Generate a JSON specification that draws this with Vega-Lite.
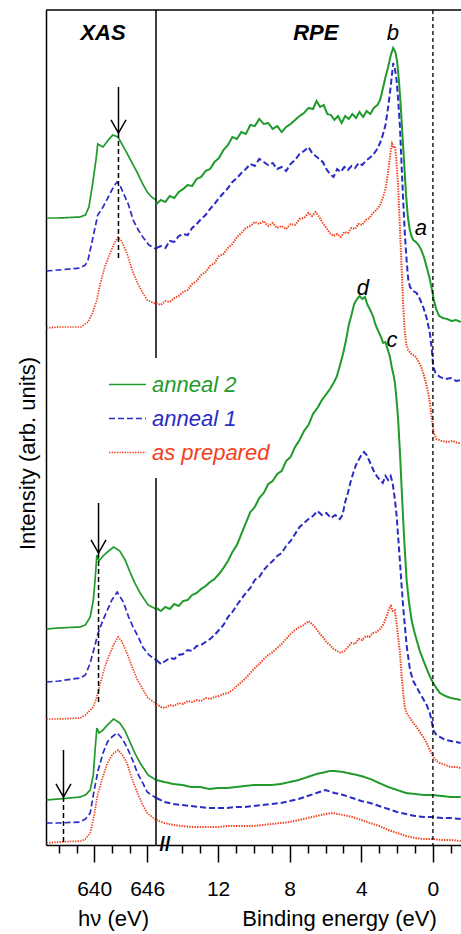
{
"$schema":"https://vega.github.io/schema/vega-lite/v6.json",
"width":415,"height":835,
"autosize":{"type":"none"},
"padding":{"left":46,"top":10,"right":0,"bottom":89},
"config":{"view":{"stroke":null},"font":"Liberation Sans"},
"datasets":{
"xas":[
{"s":"A2","g":"t","h":634.6,"i":627},{"s":"A2","g":"t","h":636,"i":627},{"s":"A2","g":"t","h":638.4,"i":628},{"s":"A2","g":"t","h":639,"i":630},{"s":"A2","g":"t","h":639.4,"i":638},{"s":"A2","g":"t","h":639.8,"i":660},{"s":"A2","g":"t","h":640.2,"i":685},{"s":"A2","g":"t","h":640.4,"i":701},{"s":"A2","g":"t","h":640.6,"i":700},{"s":"A2","g":"t","h":641,"i":698},{"s":"A2","g":"t","h":641.6,"i":705},{"s":"A2","g":"t","h":642.1,"i":710},{"s":"A2","g":"t","h":642.7,"i":708},{"s":"A2","g":"t","h":643.2,"i":700},{"s":"A2","g":"t","h":643.7,"i":692},{"s":"A2","g":"t","h":644.3,"i":682},{"s":"A2","g":"t","h":644.9,"i":672},{"s":"A2","g":"t","h":645.5,"i":661},{"s":"A2","g":"t","h":646,"i":653},{"s":"A2","g":"t","h":646.5,"i":648},{"s":"A2","g":"t","h":647,"i":645},
{"s":"A1","g":"t","h":634.6,"i":574},{"s":"A1","g":"t","h":636,"i":575},{"s":"A1","g":"t","h":638.4,"i":577},{"s":"A1","g":"t","h":639,"i":580},{"s":"A1","g":"t","h":639.3,"i":585},{"s":"A1","g":"t","h":639.8,"i":605},{"s":"A1","g":"t","h":640.4,"i":630},{"s":"A1","g":"t","h":641,"i":638},{"s":"A1","g":"t","h":641.6,"i":648},{"s":"A1","g":"t","h":642,"i":655},{"s":"A1","g":"t","h":642.4,"i":661},{"s":"A1","g":"t","h":642.6,"i":663},{"s":"A1","g":"t","h":643,"i":658},{"s":"A1","g":"t","h":643.3,"i":652},{"s":"A1","g":"t","h":643.9,"i":640},{"s":"A1","g":"t","h":644.4,"i":625},{"s":"A1","g":"t","h":645,"i":615},{"s":"A1","g":"t","h":645.5,"i":608},{"s":"A1","g":"t","h":646.2,"i":600},{"s":"A1","g":"t","h":647,"i":596},
{"s":"AP","g":"t","h":634.6,"i":517},{"s":"AP","g":"t","h":636,"i":518},{"s":"AP","g":"t","h":638.5,"i":518},{"s":"AP","g":"t","h":639.3,"i":523},{"s":"AP","g":"t","h":639.8,"i":532},{"s":"AP","g":"t","h":640.3,"i":545},{"s":"AP","g":"t","h":640.7,"i":562},{"s":"AP","g":"t","h":641.2,"i":578},{"s":"AP","g":"t","h":641.8,"i":592},{"s":"AP","g":"t","h":642.3,"i":602},{"s":"AP","g":"t","h":642.7,"i":608},{"s":"AP","g":"t","h":643.1,"i":604},{"s":"AP","g":"t","h":643.7,"i":592},{"s":"AP","g":"t","h":644.3,"i":575},{"s":"AP","g":"t","h":644.9,"i":562},{"s":"AP","g":"t","h":645.5,"i":552},{"s":"AP","g":"t","h":646,"i":545},{"s":"AP","g":"t","h":647,"i":541},
{"s":"A2","g":"m","h":634.6,"i":216},{"s":"A2","g":"m","h":636,"i":217},{"s":"A2","g":"m","h":638.4,"i":218},{"s":"A2","g":"m","h":639,"i":220},{"s":"A2","g":"m","h":639.55,"i":228},{"s":"A2","g":"m","h":639.9,"i":245},{"s":"A2","g":"m","h":640.1,"i":265},{"s":"A2","g":"m","h":640.3,"i":290},{"s":"A2","g":"m","h":640.55,"i":284},{"s":"A2","g":"m","h":641,"i":289},{"s":"A2","g":"m","h":641.5,"i":293},{"s":"A2","g":"m","h":642.2,"i":298},{"s":"A2","g":"m","h":642.9,"i":294},{"s":"A2","g":"m","h":643.5,"i":285},{"s":"A2","g":"m","h":644.1,"i":272},{"s":"A2","g":"m","h":644.6,"i":262},{"s":"A2","g":"m","h":645.2,"i":252},{"s":"A2","g":"m","h":646.1,"i":240},{"s":"A2","g":"m","h":647,"i":236},
{"s":"A1","g":"m","h":634.6,"i":163},{"s":"A1","g":"m","h":636,"i":164},{"s":"A1","g":"m","h":638.4,"i":167},{"s":"A1","g":"m","h":639,"i":170},{"s":"A1","g":"m","h":639.55,"i":182},{"s":"A1","g":"m","h":640,"i":197},{"s":"A1","g":"m","h":640.45,"i":212},{"s":"A1","g":"m","h":641,"i":225},{"s":"A1","g":"m","h":641.5,"i":235},{"s":"A1","g":"m","h":642,"i":245},{"s":"A1","g":"m","h":642.6,"i":253},{"s":"A1","g":"m","h":643.3,"i":243},{"s":"A1","g":"m","h":643.9,"i":228},{"s":"A1","g":"m","h":644.4,"i":218},{"s":"A1","g":"m","h":645,"i":208},{"s":"A1","g":"m","h":645.5,"i":198},{"s":"A1","g":"m","h":646.2,"i":190},{"s":"A1","g":"m","h":647,"i":185},
{"s":"AP","g":"m","h":634.6,"i":126},{"s":"AP","g":"m","h":636,"i":126},{"s":"AP","g":"m","h":638.4,"i":127},{"s":"AP","g":"m","h":639,"i":130},{"s":"AP","g":"m","h":639.9,"i":138},{"s":"AP","g":"m","h":640.3,"i":148},{"s":"AP","g":"m","h":640.7,"i":162},{"s":"AP","g":"m","h":641.2,"i":178},{"s":"AP","g":"m","h":641.8,"i":192},{"s":"AP","g":"m","h":642.3,"i":202},{"s":"AP","g":"m","h":642.7,"i":208},{"s":"AP","g":"m","h":643.1,"i":204},{"s":"AP","g":"m","h":643.7,"i":192},{"s":"AP","g":"m","h":644.3,"i":178},{"s":"AP","g":"m","h":644.9,"i":165},{"s":"AP","g":"m","h":645.5,"i":156},{"s":"AP","g":"m","h":646,"i":148},{"s":"AP","g":"m","h":647,"i":141},
{"s":"A2","g":"b","h":634.6,"i":45},{"s":"A2","g":"b","h":636,"i":46},{"s":"A2","g":"b","h":638.4,"i":48},{"s":"A2","g":"b","h":639,"i":50},{"s":"A2","g":"b","h":639.55,"i":55},{"s":"A2","g":"b","h":639.9,"i":70},{"s":"A2","g":"b","h":640.1,"i":95},{"s":"A2","g":"b","h":640.3,"i":117},{"s":"A2","g":"b","h":640.55,"i":112},{"s":"A2","g":"b","h":641,"i":115},{"s":"A2","g":"b","h":641.5,"i":120},{"s":"A2","g":"b","h":642.2,"i":126},{"s":"A2","g":"b","h":642.9,"i":122},{"s":"A2","g":"b","h":643.5,"i":114},{"s":"A2","g":"b","h":644.1,"i":102},{"s":"A2","g":"b","h":644.6,"i":92},{"s":"A2","g":"b","h":645.2,"i":82},{"s":"A2","g":"b","h":646.1,"i":70},{"s":"A2","g":"b","h":647,"i":65},
{"s":"A1","g":"b","h":634.6,"i":22},{"s":"A1","g":"b","h":636,"i":22},{"s":"A1","g":"b","h":638.4,"i":23},{"s":"A1","g":"b","h":639,"i":26},{"s":"A1","g":"b","h":639.55,"i":32},{"s":"A1","g":"b","h":640,"i":55},{"s":"A1","g":"b","h":640.45,"i":75},{"s":"A1","g":"b","h":641,"i":92},{"s":"A1","g":"b","h":641.5,"i":103},{"s":"A1","g":"b","h":642,"i":108},{"s":"A1","g":"b","h":642.6,"i":112},{"s":"A1","g":"b","h":643.2,"i":106},{"s":"A1","g":"b","h":643.7,"i":98},{"s":"A1","g":"b","h":644.3,"i":86},{"s":"A1","g":"b","h":644.9,"i":72},{"s":"A1","g":"b","h":645.5,"i":62},{"s":"A1","g":"b","h":646,"i":53},{"s":"A1","g":"b","h":647,"i":47},
{"s":"AP","g":"b","h":634.6,"i":2},{"s":"AP","g":"b","h":636,"i":3},{"s":"AP","g":"b","h":638.6,"i":4},{"s":"AP","g":"b","h":639,"i":6},{"s":"AP","g":"b","h":639.55,"i":12},{"s":"AP","g":"b","h":640,"i":30},{"s":"AP","g":"b","h":640.34,"i":48},{"s":"AP","g":"b","h":640.9,"i":66},{"s":"AP","g":"b","h":641.5,"i":82},{"s":"AP","g":"b","h":642.1,"i":91},{"s":"AP","g":"b","h":642.7,"i":95},{"s":"AP","g":"b","h":643.2,"i":90},{"s":"AP","g":"b","h":643.7,"i":82},{"s":"AP","g":"b","h":644.3,"i":66},{"s":"AP","g":"b","h":644.9,"i":52},{"s":"AP","g":"b","h":645.5,"i":40},{"s":"AP","g":"b","h":646,"i":32},{"s":"AP","g":"b","h":647,"i":25}
],
"rpe":[
{"s":"A2","g":"t","e":15.45,"i":641},{"s":"A2","g":"t","e":15.2,"i":645},{"s":"A2","g":"t","e":14.95,"i":643},{"s":"A2","g":"t","e":14.7,"i":649},{"s":"A2","g":"t","e":14.45,"i":647},{"s":"A2","g":"t","e":14.2,"i":653},{"s":"A2","g":"t","e":13.95,"i":656},{"s":"A2","g":"t","e":13.7,"i":660},{"s":"A2","g":"t","e":13.45,"i":659},{"s":"A2","g":"t","e":13.2,"i":666},{"s":"A2","g":"t","e":12.95,"i":668},{"s":"A2","g":"t","e":12.7,"i":674},{"s":"A2","g":"t","e":12.45,"i":676},{"s":"A2","g":"t","e":12.2,"i":683},{"s":"A2","g":"t","e":11.95,"i":687},{"s":"A2","g":"t","e":11.7,"i":695},{"s":"A2","g":"t","e":11.45,"i":700},{"s":"A2","g":"t","e":11.2,"i":708},{"s":"A2","g":"t","e":10.95,"i":706},{"s":"A2","g":"t","e":10.7,"i":713},{"s":"A2","g":"t","e":10.45,"i":711},{"s":"A2","g":"t","e":10.2,"i":720},{"s":"A2","g":"t","e":9.95,"i":719},{"s":"A2","g":"t","e":9.7,"i":726},{"s":"A2","g":"t","e":9.45,"i":721},{"s":"A2","g":"t","e":9.2,"i":722},{"s":"A2","g":"t","e":8.95,"i":716},{"s":"A2","g":"t","e":8.7,"i":719},{"s":"A2","g":"t","e":8.45,"i":713},{"s":"A2","g":"t","e":8.2,"i":718},{"s":"A2","g":"t","e":7.95,"i":721},{"s":"A2","g":"t","e":7.7,"i":725},{"s":"A2","g":"t","e":7.45,"i":729},{"s":"A2","g":"t","e":7.2,"i":732},{"s":"A2","g":"t","e":6.95,"i":737},{"s":"A2","g":"t","e":6.7,"i":736},{"s":"A2","g":"t","e":6.5,"i":744},{"s":"A2","g":"t","e":6.3,"i":738},{"s":"A2","g":"t","e":6.1,"i":740},{"s":"A2","g":"t","e":5.9,"i":731},{"s":"A2","g":"t","e":5.7,"i":730},{"s":"A2","g":"t","e":5.5,"i":725},{"s":"A2","g":"t","e":5.3,"i":729},{"s":"A2","g":"t","e":5.1,"i":722},{"s":"A2","g":"t","e":4.9,"i":729},{"s":"A2","g":"t","e":4.7,"i":726},{"s":"A2","g":"t","e":4.5,"i":731},{"s":"A2","g":"t","e":4.3,"i":727},{"s":"A2","g":"t","e":4.1,"i":733},{"s":"A2","g":"t","e":3.9,"i":728},{"s":"A2","g":"t","e":3.7,"i":734},{"s":"A2","g":"t","e":3.5,"i":731},{"s":"A2","g":"t","e":3.3,"i":737},{"s":"A2","g":"t","e":3.1,"i":740},{"s":"A2","g":"t","e":2.95,"i":745},{"s":"A2","g":"t","e":2.8,"i":756},{"s":"A2","g":"t","e":2.65,"i":768},{"s":"A2","g":"t","e":2.5,"i":778},{"s":"A2","g":"t","e":2.35,"i":790},{"s":"A2","g":"t","e":2.22,"i":797},{"s":"A2","g":"t","e":2.1,"i":793},{"s":"A2","g":"t","e":2.0,"i":784},{"s":"A2","g":"t","e":1.9,"i":765},{"s":"A2","g":"t","e":1.8,"i":740},{"s":"A2","g":"t","e":1.7,"i":710},{"s":"A2","g":"t","e":1.6,"i":680},{"s":"A2","g":"t","e":1.5,"i":650},{"s":"A2","g":"t","e":1.4,"i":628},{"s":"A2","g":"t","e":1.3,"i":616},{"s":"A2","g":"t","e":1.2,"i":609},{"s":"A2","g":"t","e":1.1,"i":605},{"s":"A2","g":"t","e":0.95,"i":603},{"s":"A2","g":"t","e":0.8,"i":600},{"s":"A2","g":"t","e":0.65,"i":595},{"s":"A2","g":"t","e":0.5,"i":588},{"s":"A2","g":"t","e":0.35,"i":578},{"s":"A2","g":"t","e":0.2,"i":568},{"s":"A2","g":"t","e":0.07,"i":557},{"s":"A2","g":"t","e":-0.05,"i":545},{"s":"A2","g":"t","e":-0.2,"i":535},{"s":"A2","g":"t","e":-0.35,"i":529},{"s":"A2","g":"t","e":-0.55,"i":527},{"s":"A2","g":"t","e":-0.8,"i":526},{"s":"A2","g":"t","e":-1.05,"i":524},{"s":"A2","g":"t","e":-1.3,"i":525},{"s":"A2","g":"t","e":-1.55,"i":523},
{"s":"A1","g":"t","e":15.45,"i":597},{"s":"A1","g":"t","e":15.2,"i":599},{"s":"A1","g":"t","e":14.95,"i":597},{"s":"A1","g":"t","e":14.7,"i":604},{"s":"A1","g":"t","e":14.45,"i":603},{"s":"A1","g":"t","e":14.2,"i":609},{"s":"A1","g":"t","e":13.95,"i":611},{"s":"A1","g":"t","e":13.7,"i":610},{"s":"A1","g":"t","e":13.45,"i":617},{"s":"A1","g":"t","e":13.2,"i":621},{"s":"A1","g":"t","e":12.95,"i":626},{"s":"A1","g":"t","e":12.7,"i":630},{"s":"A1","g":"t","e":12.45,"i":636},{"s":"A1","g":"t","e":12.2,"i":641},{"s":"A1","g":"t","e":11.95,"i":647},{"s":"A1","g":"t","e":11.7,"i":652},{"s":"A1","g":"t","e":11.45,"i":657},{"s":"A1","g":"t","e":11.2,"i":663},{"s":"A1","g":"t","e":10.95,"i":667},{"s":"A1","g":"t","e":10.7,"i":672},{"s":"A1","g":"t","e":10.45,"i":676},{"s":"A1","g":"t","e":10.2,"i":681},{"s":"A1","g":"t","e":9.95,"i":679},{"s":"A1","g":"t","e":9.7,"i":686},{"s":"A1","g":"t","e":9.45,"i":683},{"s":"A1","g":"t","e":9.2,"i":680},{"s":"A1","g":"t","e":8.95,"i":682},{"s":"A1","g":"t","e":8.7,"i":676},{"s":"A1","g":"t","e":8.45,"i":678},{"s":"A1","g":"t","e":8.2,"i":674},{"s":"A1","g":"t","e":7.95,"i":681},{"s":"A1","g":"t","e":7.7,"i":685},{"s":"A1","g":"t","e":7.45,"i":691},{"s":"A1","g":"t","e":7.2,"i":694},{"s":"A1","g":"t","e":6.95,"i":698},{"s":"A1","g":"t","e":6.75,"i":692},{"s":"A1","g":"t","e":6.55,"i":689},{"s":"A1","g":"t","e":6.35,"i":686},{"s":"A1","g":"t","e":6.15,"i":683},{"s":"A1","g":"t","e":5.95,"i":676},{"s":"A1","g":"t","e":5.75,"i":671},{"s":"A1","g":"t","e":5.55,"i":668},{"s":"A1","g":"t","e":5.35,"i":676},{"s":"A1","g":"t","e":5.15,"i":673},{"s":"A1","g":"t","e":4.95,"i":678},{"s":"A1","g":"t","e":4.75,"i":675},{"s":"A1","g":"t","e":4.55,"i":679},{"s":"A1","g":"t","e":4.35,"i":677},{"s":"A1","g":"t","e":4.15,"i":682},{"s":"A1","g":"t","e":3.95,"i":680},{"s":"A1","g":"t","e":3.75,"i":684},{"s":"A1","g":"t","e":3.55,"i":687},{"s":"A1","g":"t","e":3.35,"i":690},{"s":"A1","g":"t","e":3.15,"i":695},{"s":"A1","g":"t","e":2.95,"i":702},{"s":"A1","g":"t","e":2.8,"i":710},{"s":"A1","g":"t","e":2.65,"i":720},{"s":"A1","g":"t","e":2.5,"i":738},{"s":"A1","g":"t","e":2.4,"i":752},{"s":"A1","g":"t","e":2.3,"i":768},{"s":"A1","g":"t","e":2.22,"i":782},{"s":"A1","g":"t","e":2.12,"i":776},{"s":"A1","g":"t","e":2.03,"i":765},{"s":"A1","g":"t","e":1.94,"i":745},{"s":"A1","g":"t","e":1.84,"i":718},{"s":"A1","g":"t","e":1.75,"i":680},{"s":"A1","g":"t","e":1.66,"i":645},{"s":"A1","g":"t","e":1.57,"i":612},{"s":"A1","g":"t","e":1.47,"i":585},{"s":"A1","g":"t","e":1.38,"i":566},{"s":"A1","g":"t","e":1.28,"i":558},{"s":"A1","g":"t","e":1.1,"i":554},{"s":"A1","g":"t","e":0.91,"i":552},{"s":"A1","g":"t","e":0.73,"i":546},{"s":"A1","g":"t","e":0.54,"i":538},{"s":"A1","g":"t","e":0.35,"i":527},{"s":"A1","g":"t","e":0.17,"i":512},{"s":"A1","g":"t","e":0.07,"i":497},{"s":"A1","g":"t","e":-0.02,"i":478},{"s":"A1","g":"t","e":-0.15,"i":472},{"s":"A1","g":"t","e":-0.39,"i":468},{"s":"A1","g":"t","e":-0.7,"i":466},{"s":"A1","g":"t","e":-1.0,"i":467},{"s":"A1","g":"t","e":-1.3,"i":464},{"s":"A1","g":"t","e":-1.55,"i":465},
{"s":"AP","g":"t","e":15.45,"i":542},{"s":"AP","g":"t","e":15.2,"i":540},{"s":"AP","g":"t","e":14.95,"i":544},{"s":"AP","g":"t","e":14.7,"i":543},{"s":"AP","g":"t","e":14.45,"i":547},{"s":"AP","g":"t","e":14.2,"i":549},{"s":"AP","g":"t","e":13.95,"i":553},{"s":"AP","g":"t","e":13.7,"i":555},{"s":"AP","g":"t","e":13.45,"i":561},{"s":"AP","g":"t","e":13.2,"i":564},{"s":"AP","g":"t","e":12.95,"i":570},{"s":"AP","g":"t","e":12.7,"i":573},{"s":"AP","g":"t","e":12.45,"i":579},{"s":"AP","g":"t","e":12.2,"i":582},{"s":"AP","g":"t","e":11.95,"i":589},{"s":"AP","g":"t","e":11.7,"i":591},{"s":"AP","g":"t","e":11.45,"i":597},{"s":"AP","g":"t","e":11.2,"i":601},{"s":"AP","g":"t","e":10.95,"i":608},{"s":"AP","g":"t","e":10.7,"i":612},{"s":"AP","g":"t","e":10.45,"i":617},{"s":"AP","g":"t","e":10.2,"i":619},{"s":"AP","g":"t","e":9.95,"i":623},{"s":"AP","g":"t","e":9.7,"i":621},{"s":"AP","g":"t","e":9.45,"i":624},{"s":"AP","g":"t","e":9.2,"i":619},{"s":"AP","g":"t","e":8.95,"i":622},{"s":"AP","g":"t","e":8.7,"i":617},{"s":"AP","g":"t","e":8.45,"i":619},{"s":"AP","g":"t","e":8.2,"i":616},{"s":"AP","g":"t","e":7.95,"i":621},{"s":"AP","g":"t","e":7.7,"i":620},{"s":"AP","g":"t","e":7.45,"i":626},{"s":"AP","g":"t","e":7.2,"i":627},{"s":"AP","g":"t","e":6.95,"i":632},{"s":"AP","g":"t","e":6.75,"i":629},{"s":"AP","g":"t","e":6.55,"i":633},{"s":"AP","g":"t","e":6.35,"i":628},{"s":"AP","g":"t","e":6.15,"i":622},{"s":"AP","g":"t","e":5.95,"i":617},{"s":"AP","g":"t","e":5.75,"i":612},{"s":"AP","g":"t","e":5.55,"i":609},{"s":"AP","g":"t","e":5.35,"i":611},{"s":"AP","g":"t","e":5.15,"i":608},{"s":"AP","g":"t","e":4.95,"i":613},{"s":"AP","g":"t","e":4.75,"i":612},{"s":"AP","g":"t","e":4.55,"i":617},{"s":"AP","g":"t","e":4.35,"i":616},{"s":"AP","g":"t","e":4.15,"i":621},{"s":"AP","g":"t","e":3.95,"i":620},{"s":"AP","g":"t","e":3.75,"i":625},{"s":"AP","g":"t","e":3.55,"i":627},{"s":"AP","g":"t","e":3.35,"i":632},{"s":"AP","g":"t","e":3.15,"i":635},{"s":"AP","g":"t","e":2.95,"i":640},{"s":"AP","g":"t","e":2.8,"i":647},{"s":"AP","g":"t","e":2.65,"i":656},{"s":"AP","g":"t","e":2.55,"i":667},{"s":"AP","g":"t","e":2.45,"i":680},{"s":"AP","g":"t","e":2.35,"i":695},{"s":"AP","g":"t","e":2.28,"i":701},{"s":"AP","g":"t","e":2.2,"i":697},{"s":"AP","g":"t","e":2.12,"i":699},{"s":"AP","g":"t","e":2.03,"i":682},{"s":"AP","g":"t","e":1.94,"i":658},{"s":"AP","g":"t","e":1.85,"i":620},{"s":"AP","g":"t","e":1.75,"i":578},{"s":"AP","g":"t","e":1.66,"i":540},{"s":"AP","g":"t","e":1.57,"i":512},{"s":"AP","g":"t","e":1.47,"i":500},{"s":"AP","g":"t","e":1.38,"i":495},{"s":"AP","g":"t","e":1.2,"i":491},{"s":"AP","g":"t","e":1.0,"i":489},{"s":"AP","g":"t","e":0.85,"i":485},{"s":"AP","g":"t","e":0.7,"i":480},{"s":"AP","g":"t","e":0.54,"i":472},{"s":"AP","g":"t","e":0.4,"i":463},{"s":"AP","g":"t","e":0.26,"i":452},{"s":"AP","g":"t","e":0.15,"i":440},{"s":"AP","g":"t","e":0.05,"i":425},{"s":"AP","g":"t","e":-0.05,"i":412},{"s":"AP","g":"t","e":-0.2,"i":406},{"s":"AP","g":"t","e":-0.5,"i":404},{"s":"AP","g":"t","e":-0.8,"i":403},{"s":"AP","g":"t","e":-1.1,"i":404},{"s":"AP","g":"t","e":-1.4,"i":402},{"s":"AP","g":"t","e":-1.55,"i":402},
{"s":"A2","g":"m","e":15.45,"i":237},{"s":"A2","g":"m","e":15.2,"i":234},{"s":"A2","g":"m","e":14.95,"i":238},{"s":"A2","g":"m","e":14.7,"i":236},{"s":"A2","g":"m","e":14.45,"i":241},{"s":"A2","g":"m","e":14.2,"i":239},{"s":"A2","g":"m","e":13.95,"i":244},{"s":"A2","g":"m","e":13.7,"i":245},{"s":"A2","g":"m","e":13.45,"i":250},{"s":"A2","g":"m","e":13.2,"i":252},{"s":"A2","g":"m","e":12.95,"i":256},{"s":"A2","g":"m","e":12.7,"i":259},{"s":"A2","g":"m","e":12.45,"i":263},{"s":"A2","g":"m","e":12.2,"i":266},{"s":"A2","g":"m","e":11.95,"i":271},{"s":"A2","g":"m","e":11.7,"i":277},{"s":"A2","g":"m","e":11.45,"i":284},{"s":"A2","g":"m","e":11.2,"i":293},{"s":"A2","g":"m","e":10.95,"i":300},{"s":"A2","g":"m","e":10.7,"i":311},{"s":"A2","g":"m","e":10.45,"i":322},{"s":"A2","g":"m","e":10.2,"i":333},{"s":"A2","g":"m","e":9.95,"i":338},{"s":"A2","g":"m","e":9.7,"i":347},{"s":"A2","g":"m","e":9.45,"i":352},{"s":"A2","g":"m","e":9.2,"i":361},{"s":"A2","g":"m","e":8.95,"i":364},{"s":"A2","g":"m","e":8.7,"i":371},{"s":"A2","g":"m","e":8.45,"i":374},{"s":"A2","g":"m","e":8.2,"i":384},{"s":"A2","g":"m","e":7.95,"i":388},{"s":"A2","g":"m","e":7.7,"i":398},{"s":"A2","g":"m","e":7.45,"i":405},{"s":"A2","g":"m","e":7.2,"i":414},{"s":"A2","g":"m","e":6.95,"i":420},{"s":"A2","g":"m","e":6.7,"i":431},{"s":"A2","g":"m","e":6.45,"i":437},{"s":"A2","g":"m","e":6.2,"i":445},{"s":"A2","g":"m","e":5.95,"i":451},{"s":"A2","g":"m","e":5.75,"i":456},{"s":"A2","g":"m","e":5.55,"i":462},{"s":"A2","g":"m","e":5.38,"i":468},{"s":"A2","g":"m","e":5.2,"i":479},{"s":"A2","g":"m","e":5.01,"i":492},{"s":"A2","g":"m","e":4.85,"i":505},{"s":"A2","g":"m","e":4.7,"i":520},{"s":"A2","g":"m","e":4.55,"i":530},{"s":"A2","g":"m","e":4.4,"i":541},{"s":"A2","g":"m","e":4.27,"i":545},{"s":"A2","g":"m","e":4.1,"i":549},{"s":"A2","g":"m","e":3.95,"i":546},{"s":"A2","g":"m","e":3.8,"i":548},{"s":"A2","g":"m","e":3.65,"i":540},{"s":"A2","g":"m","e":3.5,"i":535},{"s":"A2","g":"m","e":3.35,"i":529},{"s":"A2","g":"m","e":3.2,"i":520},{"s":"A2","g":"m","e":3.05,"i":514},{"s":"A2","g":"m","e":2.9,"i":508},{"s":"A2","g":"m","e":2.78,"i":502},{"s":"A2","g":"m","e":2.65,"i":503},{"s":"A2","g":"m","e":2.5,"i":494},{"s":"A2","g":"m","e":2.41,"i":489},{"s":"A2","g":"m","e":2.3,"i":478},{"s":"A2","g":"m","e":2.2,"i":470},{"s":"A2","g":"m","e":2.12,"i":462},{"s":"A2","g":"m","e":2.03,"i":445},{"s":"A2","g":"m","e":1.94,"i":425},{"s":"A2","g":"m","e":1.84,"i":392},{"s":"A2","g":"m","e":1.75,"i":358},{"s":"A2","g":"m","e":1.66,"i":325},{"s":"A2","g":"m","e":1.57,"i":295},{"s":"A2","g":"m","e":1.47,"i":265},{"s":"A2","g":"m","e":1.33,"i":242},{"s":"A2","g":"m","e":1.19,"i":225},{"s":"A2","g":"m","e":1.05,"i":214},{"s":"A2","g":"m","e":0.91,"i":205},{"s":"A2","g":"m","e":0.73,"i":194},{"s":"A2","g":"m","e":0.54,"i":185},{"s":"A2","g":"m","e":0.3,"i":174},{"s":"A2","g":"m","e":0.07,"i":165},{"s":"A2","g":"m","e":-0.15,"i":158},{"s":"A2","g":"m","e":-0.39,"i":152},{"s":"A2","g":"m","e":-0.7,"i":149},{"s":"A2","g":"m","e":-1.0,"i":147},{"s":"A2","g":"m","e":-1.3,"i":146},{"s":"A2","g":"m","e":-1.55,"i":145},
{"s":"A1","g":"m","e":15.45,"i":185},{"s":"A1","g":"m","e":15.2,"i":181},{"s":"A1","g":"m","e":14.95,"i":184},{"s":"A1","g":"m","e":14.7,"i":187},{"s":"A1","g":"m","e":14.45,"i":186},{"s":"A1","g":"m","e":14.2,"i":190},{"s":"A1","g":"m","e":13.95,"i":191},{"s":"A1","g":"m","e":13.7,"i":195},{"s":"A1","g":"m","e":13.45,"i":194},{"s":"A1","g":"m","e":13.2,"i":199},{"s":"A1","g":"m","e":12.95,"i":200},{"s":"A1","g":"m","e":12.7,"i":203},{"s":"A1","g":"m","e":12.45,"i":206},{"s":"A1","g":"m","e":12.2,"i":210},{"s":"A1","g":"m","e":11.95,"i":215},{"s":"A1","g":"m","e":11.7,"i":220},{"s":"A1","g":"m","e":11.45,"i":228},{"s":"A1","g":"m","e":11.2,"i":233},{"s":"A1","g":"m","e":10.95,"i":240},{"s":"A1","g":"m","e":10.7,"i":246},{"s":"A1","g":"m","e":10.45,"i":252},{"s":"A1","g":"m","e":10.2,"i":257},{"s":"A1","g":"m","e":9.95,"i":265},{"s":"A1","g":"m","e":9.7,"i":268},{"s":"A1","g":"m","e":9.45,"i":275},{"s":"A1","g":"m","e":9.2,"i":280},{"s":"A1","g":"m","e":8.95,"i":284},{"s":"A1","g":"m","e":8.7,"i":289},{"s":"A1","g":"m","e":8.45,"i":292},{"s":"A1","g":"m","e":8.2,"i":299},{"s":"A1","g":"m","e":7.95,"i":304},{"s":"A1","g":"m","e":7.7,"i":311},{"s":"A1","g":"m","e":7.45,"i":318},{"s":"A1","g":"m","e":7.2,"i":322},{"s":"A1","g":"m","e":6.95,"i":326},{"s":"A1","g":"m","e":6.7,"i":329},{"s":"A1","g":"m","e":6.45,"i":334},{"s":"A1","g":"m","e":6.2,"i":330},{"s":"A1","g":"m","e":5.95,"i":332},{"s":"A1","g":"m","e":5.7,"i":327},{"s":"A1","g":"m","e":5.45,"i":330},{"s":"A1","g":"m","e":5.2,"i":326},{"s":"A1","g":"m","e":5.05,"i":330},{"s":"A1","g":"m","e":4.9,"i":343},{"s":"A1","g":"m","e":4.75,"i":352},{"s":"A1","g":"m","e":4.6,"i":363},{"s":"A1","g":"m","e":4.45,"i":372},{"s":"A1","g":"m","e":4.3,"i":380},{"s":"A1","g":"m","e":4.15,"i":385},{"s":"A1","g":"m","e":4.0,"i":390},{"s":"A1","g":"m","e":3.85,"i":393},{"s":"A1","g":"m","e":3.7,"i":390},{"s":"A1","g":"m","e":3.55,"i":384},{"s":"A1","g":"m","e":3.4,"i":378},{"s":"A1","g":"m","e":3.25,"i":372},{"s":"A1","g":"m","e":3.1,"i":368},{"s":"A1","g":"m","e":2.96,"i":365},{"s":"A1","g":"m","e":2.8,"i":362},{"s":"A1","g":"m","e":2.65,"i":369},{"s":"A1","g":"m","e":2.5,"i":365},{"s":"A1","g":"m","e":2.36,"i":369},{"s":"A1","g":"m","e":2.25,"i":362},{"s":"A1","g":"m","e":2.12,"i":345},{"s":"A1","g":"m","e":2.03,"i":330},{"s":"A1","g":"m","e":1.94,"i":308},{"s":"A1","g":"m","e":1.84,"i":283},{"s":"A1","g":"m","e":1.75,"i":260},{"s":"A1","g":"m","e":1.66,"i":238},{"s":"A1","g":"m","e":1.47,"i":200},{"s":"A1","g":"m","e":1.28,"i":175},{"s":"A1","g":"m","e":1.1,"i":164},{"s":"A1","g":"m","e":0.91,"i":158},{"s":"A1","g":"m","e":0.73,"i":152},{"s":"A1","g":"m","e":0.54,"i":146},{"s":"A1","g":"m","e":0.35,"i":140},{"s":"A1","g":"m","e":0.17,"i":132},{"s":"A1","g":"m","e":0.07,"i":124},{"s":"A1","g":"m","e":-0.02,"i":115},{"s":"A1","g":"m","e":-0.2,"i":110},{"s":"A1","g":"m","e":-0.39,"i":108},{"s":"A1","g":"m","e":-0.7,"i":105},{"s":"A1","g":"m","e":-1.0,"i":104},{"s":"A1","g":"m","e":-1.3,"i":103},{"s":"A1","g":"m","e":-1.55,"i":102},
{"s":"AP","g":"m","e":15.45,"i":141},{"s":"AP","g":"m","e":15.2,"i":138},{"s":"AP","g":"m","e":14.95,"i":137},{"s":"AP","g":"m","e":14.7,"i":140},{"s":"AP","g":"m","e":14.45,"i":139},{"s":"AP","g":"m","e":14.2,"i":142},{"s":"AP","g":"m","e":13.95,"i":141},{"s":"AP","g":"m","e":13.7,"i":144},{"s":"AP","g":"m","e":13.45,"i":143},{"s":"AP","g":"m","e":13.2,"i":145},{"s":"AP","g":"m","e":12.95,"i":144},{"s":"AP","g":"m","e":12.7,"i":147},{"s":"AP","g":"m","e":12.45,"i":146},{"s":"AP","g":"m","e":12.2,"i":148},{"s":"AP","g":"m","e":11.95,"i":149},{"s":"AP","g":"m","e":11.7,"i":151},{"s":"AP","g":"m","e":11.45,"i":152},{"s":"AP","g":"m","e":11.2,"i":155},{"s":"AP","g":"m","e":10.95,"i":159},{"s":"AP","g":"m","e":10.7,"i":163},{"s":"AP","g":"m","e":10.45,"i":167},{"s":"AP","g":"m","e":10.2,"i":172},{"s":"AP","g":"m","e":9.95,"i":177},{"s":"AP","g":"m","e":9.7,"i":181},{"s":"AP","g":"m","e":9.45,"i":186},{"s":"AP","g":"m","e":9.2,"i":190},{"s":"AP","g":"m","e":8.95,"i":193},{"s":"AP","g":"m","e":8.7,"i":197},{"s":"AP","g":"m","e":8.45,"i":201},{"s":"AP","g":"m","e":8.2,"i":206},{"s":"AP","g":"m","e":7.95,"i":211},{"s":"AP","g":"m","e":7.7,"i":215},{"s":"AP","g":"m","e":7.45,"i":218},{"s":"AP","g":"m","e":7.2,"i":220},{"s":"AP","g":"m","e":6.95,"i":224},{"s":"AP","g":"m","e":6.75,"i":221},{"s":"AP","g":"m","e":6.55,"i":217},{"s":"AP","g":"m","e":6.35,"i":212},{"s":"AP","g":"m","e":6.15,"i":208},{"s":"AP","g":"m","e":5.95,"i":203},{"s":"AP","g":"m","e":5.75,"i":200},{"s":"AP","g":"m","e":5.55,"i":196},{"s":"AP","g":"m","e":5.35,"i":194},{"s":"AP","g":"m","e":5.15,"i":192},{"s":"AP","g":"m","e":4.95,"i":194},{"s":"AP","g":"m","e":4.75,"i":198},{"s":"AP","g":"m","e":4.55,"i":202},{"s":"AP","g":"m","e":4.35,"i":201},{"s":"AP","g":"m","e":4.15,"i":206},{"s":"AP","g":"m","e":3.95,"i":205},{"s":"AP","g":"m","e":3.75,"i":209},{"s":"AP","g":"m","e":3.55,"i":208},{"s":"AP","g":"m","e":3.35,"i":212},{"s":"AP","g":"m","e":3.15,"i":213},{"s":"AP","g":"m","e":2.95,"i":216},{"s":"AP","g":"m","e":2.75,"i":221},{"s":"AP","g":"m","e":2.6,"i":228},{"s":"AP","g":"m","e":2.45,"i":236},{"s":"AP","g":"m","e":2.35,"i":239},{"s":"AP","g":"m","e":2.25,"i":234},{"s":"AP","g":"m","e":2.13,"i":235},{"s":"AP","g":"m","e":2.03,"i":222},{"s":"AP","g":"m","e":1.94,"i":208},{"s":"AP","g":"m","e":1.84,"i":192},{"s":"AP","g":"m","e":1.75,"i":170},{"s":"AP","g":"m","e":1.66,"i":152},{"s":"AP","g":"m","e":1.57,"i":138},{"s":"AP","g":"m","e":1.47,"i":132},{"s":"AP","g":"m","e":1.28,"i":127},{"s":"AP","g":"m","e":1.1,"i":122},{"s":"AP","g":"m","e":0.91,"i":118},{"s":"AP","g":"m","e":0.73,"i":113},{"s":"AP","g":"m","e":0.54,"i":108},{"s":"AP","g":"m","e":0.35,"i":102},{"s":"AP","g":"m","e":0.17,"i":95},{"s":"AP","g":"m","e":-0.02,"i":88},{"s":"AP","g":"m","e":-0.2,"i":84},{"s":"AP","g":"m","e":-0.39,"i":82},{"s":"AP","g":"m","e":-0.7,"i":80},{"s":"AP","g":"m","e":-1.0,"i":78},{"s":"AP","g":"m","e":-1.3,"i":78},{"s":"AP","g":"m","e":-1.55,"i":77},
{"s":"A2","g":"b","e":15.45,"i":65},{"s":"A2","g":"b","e":15.0,"i":63},{"s":"A2","g":"b","e":14.5,"i":61},{"s":"A2","g":"b","e":14.0,"i":60},{"s":"A2","g":"b","e":13.5,"i":58},{"s":"A2","g":"b","e":13.0,"i":58},{"s":"A2","g":"b","e":12.5,"i":56},{"s":"A2","g":"b","e":12.0,"i":57},{"s":"A2","g":"b","e":11.5,"i":57},{"s":"A2","g":"b","e":11.0,"i":58},{"s":"A2","g":"b","e":10.5,"i":59},{"s":"A2","g":"b","e":10.0,"i":60},{"s":"A2","g":"b","e":9.5,"i":60},{"s":"A2","g":"b","e":9.0,"i":60},{"s":"A2","g":"b","e":8.5,"i":61},{"s":"A2","g":"b","e":8.0,"i":63},{"s":"A2","g":"b","e":7.5,"i":65},{"s":"A2","g":"b","e":7.0,"i":68},{"s":"A2","g":"b","e":6.5,"i":71},{"s":"A2","g":"b","e":6.0,"i":73},{"s":"A2","g":"b","e":5.75,"i":74},{"s":"A2","g":"b","e":5.5,"i":74},{"s":"A2","g":"b","e":5.0,"i":73},{"s":"A2","g":"b","e":4.5,"i":71},{"s":"A2","g":"b","e":4.0,"i":69},{"s":"A2","g":"b","e":3.5,"i":66},{"s":"A2","g":"b","e":3.0,"i":62},{"s":"A2","g":"b","e":2.5,"i":58},{"s":"A2","g":"b","e":2.0,"i":55},{"s":"A2","g":"b","e":1.5,"i":52},{"s":"A2","g":"b","e":1.0,"i":51},{"s":"A2","g":"b","e":0.5,"i":50},{"s":"A2","g":"b","e":0.0,"i":50},{"s":"A2","g":"b","e":-0.5,"i":49},{"s":"A2","g":"b","e":-1.0,"i":48},{"s":"A2","g":"b","e":-1.55,"i":48},
{"s":"A1","g":"b","e":15.45,"i":47},{"s":"A1","g":"b","e":15.0,"i":43},{"s":"A1","g":"b","e":14.5,"i":41},{"s":"A1","g":"b","e":14.0,"i":40},{"s":"A1","g":"b","e":13.5,"i":39},{"s":"A1","g":"b","e":13.0,"i":38},{"s":"A1","g":"b","e":12.5,"i":37},{"s":"A1","g":"b","e":12.0,"i":37},{"s":"A1","g":"b","e":11.5,"i":37},{"s":"A1","g":"b","e":11.0,"i":38},{"s":"A1","g":"b","e":10.5,"i":38},{"s":"A1","g":"b","e":10.0,"i":39},{"s":"A1","g":"b","e":9.5,"i":40},{"s":"A1","g":"b","e":9.0,"i":41},{"s":"A1","g":"b","e":8.5,"i":42},{"s":"A1","g":"b","e":8.0,"i":44},{"s":"A1","g":"b","e":7.5,"i":46},{"s":"A1","g":"b","e":7.0,"i":49},{"s":"A1","g":"b","e":6.5,"i":52},{"s":"A1","g":"b","e":6.0,"i":55},{"s":"A1","g":"b","e":5.5,"i":52},{"s":"A1","g":"b","e":5.0,"i":50},{"s":"A1","g":"b","e":4.5,"i":47},{"s":"A1","g":"b","e":4.0,"i":44},{"s":"A1","g":"b","e":3.5,"i":42},{"s":"A1","g":"b","e":3.0,"i":39},{"s":"A1","g":"b","e":2.5,"i":36},{"s":"A1","g":"b","e":2.0,"i":33},{"s":"A1","g":"b","e":1.5,"i":31},{"s":"A1","g":"b","e":1.0,"i":29},{"s":"A1","g":"b","e":0.5,"i":28},{"s":"A1","g":"b","e":0.0,"i":28},{"s":"A1","g":"b","e":-0.5,"i":27},{"s":"A1","g":"b","e":-1.0,"i":27},{"s":"A1","g":"b","e":-1.55,"i":26},
{"s":"AP","g":"b","e":15.45,"i":25},{"s":"AP","g":"b","e":15.0,"i":22},{"s":"AP","g":"b","e":14.5,"i":20},{"s":"AP","g":"b","e":14.0,"i":19},{"s":"AP","g":"b","e":13.5,"i":18},{"s":"AP","g":"b","e":13.0,"i":18},{"s":"AP","g":"b","e":12.5,"i":18},{"s":"AP","g":"b","e":12.0,"i":18},{"s":"AP","g":"b","e":11.5,"i":19},{"s":"AP","g":"b","e":11.0,"i":19},{"s":"AP","g":"b","e":10.5,"i":19},{"s":"AP","g":"b","e":10.0,"i":19},{"s":"AP","g":"b","e":9.5,"i":20},{"s":"AP","g":"b","e":9.0,"i":21},{"s":"AP","g":"b","e":8.5,"i":22},{"s":"AP","g":"b","e":8.0,"i":23},{"s":"AP","g":"b","e":7.5,"i":25},{"s":"AP","g":"b","e":7.0,"i":27},{"s":"AP","g":"b","e":6.5,"i":29},{"s":"AP","g":"b","e":6.0,"i":31},{"s":"AP","g":"b","e":5.6,"i":32},{"s":"AP","g":"b","e":5.0,"i":30},{"s":"AP","g":"b","e":4.5,"i":28},{"s":"AP","g":"b","e":4.0,"i":25},{"s":"AP","g":"b","e":3.5,"i":22},{"s":"AP","g":"b","e":3.0,"i":19},{"s":"AP","g":"b","e":2.5,"i":15},{"s":"AP","g":"b","e":2.0,"i":12},{"s":"AP","g":"b","e":1.5,"i":9},{"s":"AP","g":"b","e":1.0,"i":7},{"s":"AP","g":"b","e":0.5,"i":6},{"s":"AP","g":"b","e":0.0,"i":6},{"s":"AP","g":"b","e":-0.5,"i":5},{"s":"AP","g":"b","e":-1.0,"i":5},{"s":"AP","g":"b","e":-1.55,"i":4}
],
"xsolid":[
{"h":647,"i":835,"i2":487},{"h":647,"i":367,"i2":0},
{"h":642.75,"i":758,"i2":712},{"h":640.49,"i":342,"i2":292},{"h":636.52,"i":95,"i2":48}
],
"xdash":[
{"h":642.75,"i":712,"i2":585},{"h":640.49,"i":292,"i2":143},{"h":636.52,"i":48,"i2":0}
],
"xtip":[
{"h":642.75,"i":712},{"h":640.49,"i":292},{"h":636.52,"i":48}
]
},
"encoding":{
"y":{"field":"i","type":"quantitative","scale":{"domain":[0,835],"nice":false,"zero":false},
"axis":{"title":"Intensity (arb. units)","ticks":false,"labels":false,"grid":false,"domainColor":"black","domainWidth":1.5,"titleFontSize":22,"titleFontWeight":"normal","titleColor":"black","titleFont":"Liberation Sans","titleX":-12,"titleY":443,"titleAngle":-90,"titleAlign":"center","titleBaseline":"alphabetic"}}
},
"layer":[
{"data":{"values":[{"i":835}]},"mark":{"type":"rule","color":"black","strokeWidth":1.5},"encoding":{}},
{
"encoding":{"x":{"field":"h","type":"quantitative","scale":{"domain":[634.54,647],"range":[0,110],"nice":false,"zero":false},
"axis":{"orient":"bottom","title":"hν (eV)","values":[636,638,640,642,644,646],
"tickSize":{"condition":{"test":"datum.value == 640 || datum.value == 646","value":17},"value":8},
"labelExpr":"datum.value == 640 || datum.value == 646 ? datum.label : ''",
"labelPadding":16,"labelFontSize":21,"labelColor":"black","labelFont":"Liberation Sans","labelFlush":false,"labelOverlap":false,
"tickColor":"black","tickWidth":1.5,"domainColor":"black","domainWidth":1.5,"grid":false,
"titleFontSize":22,"titleFontWeight":"normal","titleColor":"black","titleFont":"Liberation Sans","titleX":67,"titleY":80,"titleBaseline":"alphabetic","titleAlign":"center"}}},
"layer":[
{"data":{"name":"xas"},"mark":{"type":"line","strokeWidth":1.7},
"encoding":{
"color":{"field":"s","type":"nominal","scale":{"domain":["A2","A1","AP"],"range":["#1f9a2b","#2b2bc6","#f2401c"]},
"legend":{"orient":"none","legendX":62,"legendY":355,"title":null,"direction":"vertical","symbolType":"stroke","symbolSize":1369,"symbolStrokeWidth":1.7,"labelFontSize":22,"labelFontStyle":"italic","labelFont":"Liberation Sans","labelOffset":5,"rowPadding":3,"padding":0,"labelExpr":"datum.value == 'A2' ? 'anneal 2' : datum.value == 'A1' ? 'anneal 1' : 'as prepared'","encode":{"labels":{"update":{"fill":{"scale":"color","field":"value"}}}}}},
"strokeDash":{"field":"s","type":"nominal","scale":{"domain":["A2","A1","AP"],"range":[[1,0],[6,3],[1.4,1.2]]},
"legend":{"orient":"none","legendX":62,"legendY":355,"title":null,"direction":"vertical","symbolType":"stroke","symbolSize":1369,"symbolStrokeWidth":1.7,"labelFontSize":22,"labelFontStyle":"italic","labelFont":"Liberation Sans","labelOffset":5,"rowPadding":3,"padding":0,"labelExpr":"datum.value == 'A2' ? 'anneal 2' : datum.value == 'A1' ? 'anneal 1' : 'as prepared'","encode":{"labels":{"update":{"fill":{"scale":"color","field":"value"}}}}}},
"detail":{"field":"g"}}},
{"data":{"name":"xsolid"},"mark":{"type":"rule","color":"black","strokeWidth":1.5},"encoding":{"y2":{"field":"i2"}}},
{"data":{"name":"xdash"},"mark":{"type":"rule","color":"black","strokeWidth":1.5,"strokeDash":[5,3]},"encoding":{"y2":{"field":"i2"}}},
{"data":{"name":"xtip"},"mark":{"type":"point","shape":"M-1,-1.75L0,0L1,-1.75","filled":false,"size":225,"stroke":"black","strokeWidth":1.5,"opacity":1},"encoding":{}},
{"data":{"values":[{"h":641.0,"i":812,"t":"XAS"}]},"mark":{"type":"text","fontSize":22,"fontWeight":"bold","fontStyle":"italic","baseline":"middle","color":"black"},"encoding":{"text":{"field":"t"}}}
]
},
{
"encoding":{"x":{"field":"e","type":"quantitative","scale":{"domain":[-1.57,15.47],"reverse":true,"range":[110,415],"nice":false,"zero":false},
"axis":{"orient":"bottom","title":"Binding energy (eV)","values":[14,13,12,11,10,9,8,7,6,5,4,3,2,1,0,-1],
"tickSize":{"condition":{"test":"datum.value % 4 == 0","value":17},"value":8},
"labelExpr":"datum.value % 4 == 0 ? datum.label : ''",
"labelPadding":16,"labelFontSize":21,"labelColor":"black","labelFont":"Liberation Sans","labelFlush":false,"labelOverlap":false,
"tickColor":"black","tickWidth":1.5,"domainColor":"black","domainWidth":1.5,"grid":false,
"titleFontSize":22,"titleFontWeight":"normal","titleColor":"black","titleFont":"Liberation Sans","titleX":293,"titleY":80,"titleBaseline":"alphabetic","titleAlign":"center"}}},
"layer":[
{"data":{"name":"rpe"},"mark":{"type":"line","strokeWidth":2},
"encoding":{
"color":{"field":"s","type":"nominal","scale":{"domain":["A2","A1","AP"],"range":["#1f9a2b","#2b2bc6","#f2401c"]},
"legend":{"orient":"none","legendX":62,"legendY":355,"title":null,"direction":"vertical","symbolType":"stroke","symbolSize":1369,"symbolStrokeWidth":1.7,"labelFontSize":22,"labelFontStyle":"italic","labelFont":"Liberation Sans","labelOffset":5,"rowPadding":3,"padding":0,"labelExpr":"datum.value == 'A2' ? 'anneal 2' : datum.value == 'A1' ? 'anneal 1' : 'as prepared'","encode":{"labels":{"update":{"fill":{"scale":"color","field":"value"}}}}}},
"strokeDash":{"field":"s","type":"nominal","scale":{"domain":["A2","A1","AP"],"range":[[1,0],[6,3],[1.4,1.2]]},
"legend":{"orient":"none","legendX":62,"legendY":355,"title":null,"direction":"vertical","symbolType":"stroke","symbolSize":1369,"symbolStrokeWidth":1.7,"labelFontSize":22,"labelFontStyle":"italic","labelFont":"Liberation Sans","labelOffset":5,"rowPadding":3,"padding":0,"labelExpr":"datum.value == 'A2' ? 'anneal 2' : datum.value == 'A1' ? 'anneal 1' : 'as prepared'","encode":{"labels":{"update":{"fill":{"scale":"color","field":"value"}}}}}},
"detail":{"field":"g"}}},
{"data":{"values":[{"e":0,"i":835,"i2":0}]},"mark":{"type":"rule","color":"black","strokeWidth":1.3,"strokeDash":[4,3]},"encoding":{"y2":{"field":"i2"}}},
{"data":{"values":[{"e":6.54,"i":812,"t":"RPE"}]},"mark":{"type":"text","fontSize":22,"fontWeight":"bold","fontStyle":"italic","baseline":"middle","color":"black"},"encoding":{"text":{"field":"t"}}},
{"data":{"values":[{"e":2.23,"i":812,"t":"b"},{"e":0.67,"i":617,"t":"a"},{"e":3.91,"i":557,"t":"d"},{"e":2.29,"i":505,"t":"c"}]},"mark":{"type":"text","fontSize":22,"fontStyle":"italic","baseline":"middle","color":"black"},"encoding":{"text":{"field":"t"}}},
{"data":{"values":[{"e":14.97,"i":0,"t":"//"}]},"mark":{"type":"text","fontSize":20,"fontWeight":"bold","baseline":"middle","color":"black"},"encoding":{"text":{"field":"t"}}}
]
}
],
"resolve":{"scale":{"x":"independent"},"axis":{"x":"independent"}}
}
